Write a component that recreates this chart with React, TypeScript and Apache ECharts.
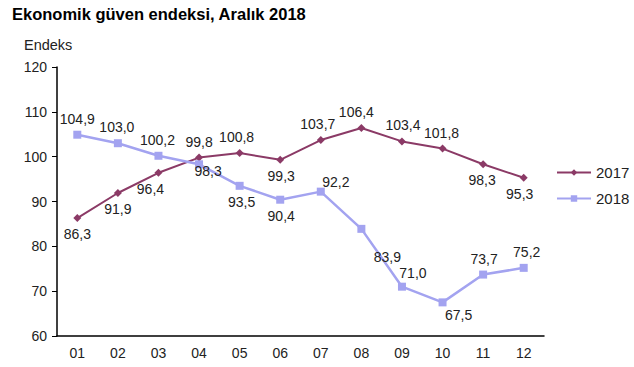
import React, { useEffect, useRef } from "react";
import * as echarts from "echarts";

const months = ["01", "02", "03", "04", "05", "06", "07", "08", "09", "10", "11", "12"];
const values2017 = [86.3, 91.9, 96.4, 99.8, 100.8, 99.3, 103.7, 106.4, 103.4, 101.8, 98.3, 95.3];
const values2018 = [104.9, 103.0, 100.2, 98.3, 93.5, 90.4, 92.2, 83.9, 71.0, 67.5, 73.7, 75.2];
const yTicks = { min: 60, max: 120, interval: 10 };

// label placement per point: [position, dx, dy]
const pos2017: [string, number, number][] = [
  ["bottom", 0, 0], ["bottom", 0, 0], ["bottom", -8, 0], ["top", 0, 0], ["top", -3, 0], ["bottom", 1, 0],
  ["top", -3, 0], ["top", -5, 0], ["top", 1, 0], ["top", -1, 0], ["bottom", -1, 0], ["bottom", -4, 0],
];
const pos2018: [string, number, number][] = [
  ["top", 0, 0], ["top", -1, 0], ["top", -1, 0], ["bottom", 9, -9], ["bottom", 2, 0], ["bottom", 1, 0],
  ["top", 15, 6], ["bottom", 26, 12], ["top", 11, 2], ["bottom", 16, -3], ["top", 1, 0], ["top", 3, 0],
];

const fmt = (v: number) => v.toFixed(1).replace(".", ",");

export default function App() {
  const ref = useRef<HTMLDivElement>(null);
  useEffect(() => {
    if (!ref.current) return;
    const chart = echarts.init(ref.current, undefined, { renderer: "svg" });
    const mk = (vals: number[], pos: [string, number, number][]) =>
      vals.map((v, i) => ({
        value: v,
        label: { position: pos[i][0] as any, offset: [pos[i][1], pos[i][2]] },
      }));
    const font = "Liberation Sans, Arial, sans-serif";
    const fs = 14;
    chart.setOption({
      animation: false,
      textStyle: { fontFamily: font },
      title: {
        text: "Ekonomik güven endeksi, Aralık 2018",
        left: 7,
        top: 0,
        textStyle: { fontSize: 16.5, fontWeight: "bold", color: "#000", fontFamily: font },
      },
      graphic: [
        {
          type: "text",
          left: 24,
          top: 37,
          style: { text: "Endeks", fontSize: 14.5, fill: "#222", fontFamily: font },
        },
      ],
      legend: {
        orient: "vertical",
        left: 551,
        top: 160,
        itemWidth: 34,
        itemHeight: 8,
        itemGap: 11,
        textStyle: { fontSize: 15, color: "#222", fontFamily: font },
        data: ["2017", "2018"],
      },
      grid: { left: 57, top: 67, right: 90, bottom: 31 },
      xAxis: {
        type: "category",
        data: months,
        boundaryGap: true,
        axisLine: { lineStyle: { color: "#000", width: 1.5 } },
        axisTick: { alignWithLabel: true, length: 5, lineStyle: { color: "#000" } },
        axisLabel: { fontSize: fs, color: "#222", margin: 10 },
      },
      yAxis: {
        type: "value",
        min: yTicks.min,
        max: yTicks.max,
        interval: yTicks.interval,
        axisLine: { show: true, lineStyle: { color: "#000", width: 1.5 } },
        axisTick: { show: true, length: 5, lineStyle: { color: "#000" } },
        axisLabel: { fontSize: fs, color: "#222", margin: 10 },
        splitLine: { show: false },
      },
      series: [
        {
          name: "2017",
          type: "line",
          data: mk(values2017, pos2017),
          symbol: "diamond",
          symbolSize: 8,
          color: "#8B3A66",
          lineStyle: { width: 2 },
          label: {
            show: true,
            fontSize: fs,
            color: "#222",
            distance: 5,
            formatter: (p: any) => fmt(p.value),
          },
        },
        {
          name: "2018",
          type: "line",
          data: mk(values2018, pos2018),
          symbol: "rect",
          symbolSize: 8,
          color: "#A3A3F0",
          lineStyle: { width: 2.5 },
          label: {
            show: true,
            fontSize: fs,
            color: "#222",
            distance: 5,
            formatter: (p: any) => fmt(p.value),
          },
        },
      ],
    });
    return () => chart.dispose();
  }, []);
  return (
    <div
      ref={ref}
      style={{ position: "fixed", left: 0, top: 0, width: 634, height: 367, background: "#fff" }}
    />
  );
}
